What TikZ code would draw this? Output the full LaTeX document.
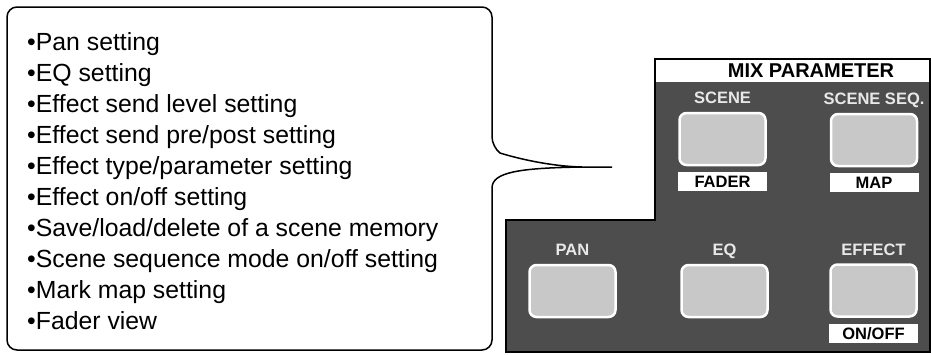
\documentclass[tikz,border=0pt]{standalone}
\usepackage{fontspec}
\setmainfont{Liberation Sans}
\usepackage{xcolor}
\usepackage{tikz}
\usetikzlibrary{positioning}
\definecolor{panelgray}{HTML}{4D4D4D}
\definecolor{keygray}{HTML}{C8C8C8}
\definecolor{capgray}{HTML}{E8E8E8}
\tikzset{
  keynode/.style={draw=white,line width=2.5pt,rounded corners=7pt,fill=keygray,minimum width=86pt,minimum height=52pt,inner sep=0pt},
  keylabel/.style={font=\fontsize{16.5}{18}\selectfont\bfseries,text=capgray,inner sep=0pt,text height=12pt,text depth=0pt},
  subnode/.style={fill=white,minimum width=89pt,minimum height=19pt,inner sep=0pt,font=\fontsize{16.5}{18}\selectfont\bfseries,text=black},
  listitem/.style={anchor=base west,inner sep=0pt,font=\fontsize{24.8}{31}\selectfont},
  calloutline/.style={draw=black,line width=1.5pt},
}

\begin{document}
\begin{tikzpicture}[x=1pt,y=-1pt,node distance=6pt]
        \useasboundingbox (0,0) rectangle (931,354);
        % callout
        \draw[calloutline] (492,188) [rounded corners=10pt] -- (492,350) -- (7,350) -- (7,7) -- (492,7) -- (492,147)
          [sharp corners] .. controls (500,153) and (540,166) .. (582,167) -- (612,167) -- (582,167)
          .. controls (520,168) and (492,172) .. (492,188);
        \foreach \txt [count=\i from 0] in {Pan setting,EQ setting,Effect send level setting,Effect send pre/post setting,Effect type/parameter setting,Effect on/off setting,Save/load/delete of a scene memory,Scene sequence mode on/off setting,Mark map setting,Fader view}
          \node[listitem] (item\i) at (27,50+31*\i) {•\txt};
        % panel
        \draw[fill=panelgray,line width=2pt] (655,59) -- (930,59) -- (930,352) -- (506,352) -- (506,220) -- (655,220) -- cycle;
        \fill[white] (656,60) rectangle (929,82);
        \node[font=\fontsize{20}{22}\selectfont\bfseries,inner sep=0pt] (title) at (811,71) {MIX PARAMETER};
        \node[keynode] (scene) at (722.5,139) {};
        \node[keynode] (sceneseq) at (874,140) {};
        \node[keynode] (pan) at (572.5,291) {};
        \node[keynode] (eq) at (724.5,291) {};
        \node[keynode] (effect) at (873.5,290.5) {};
        \node[keylabel,above=8pt of scene] (scenelbl) {SCENE};
        \node[keylabel,above=8pt of sceneseq] (seqlbl) {SCENE SEQ.};
        \node[keylabel,above=8pt of pan] (panlbl) {PAN};
        \node[keylabel,above=8pt of eq] (eqlbl) {EQ};
        \node[keylabel,above=8pt of effect] (fxlbl) {EFFECT};
        \node[subnode,below=of scene] (fader) {FADER};
        \node[subnode,below=of sceneseq] (map) {MAP};
        \node[subnode,below=of effect] (onoff) {ON/OFF};
      \end{tikzpicture}
\end{document}
